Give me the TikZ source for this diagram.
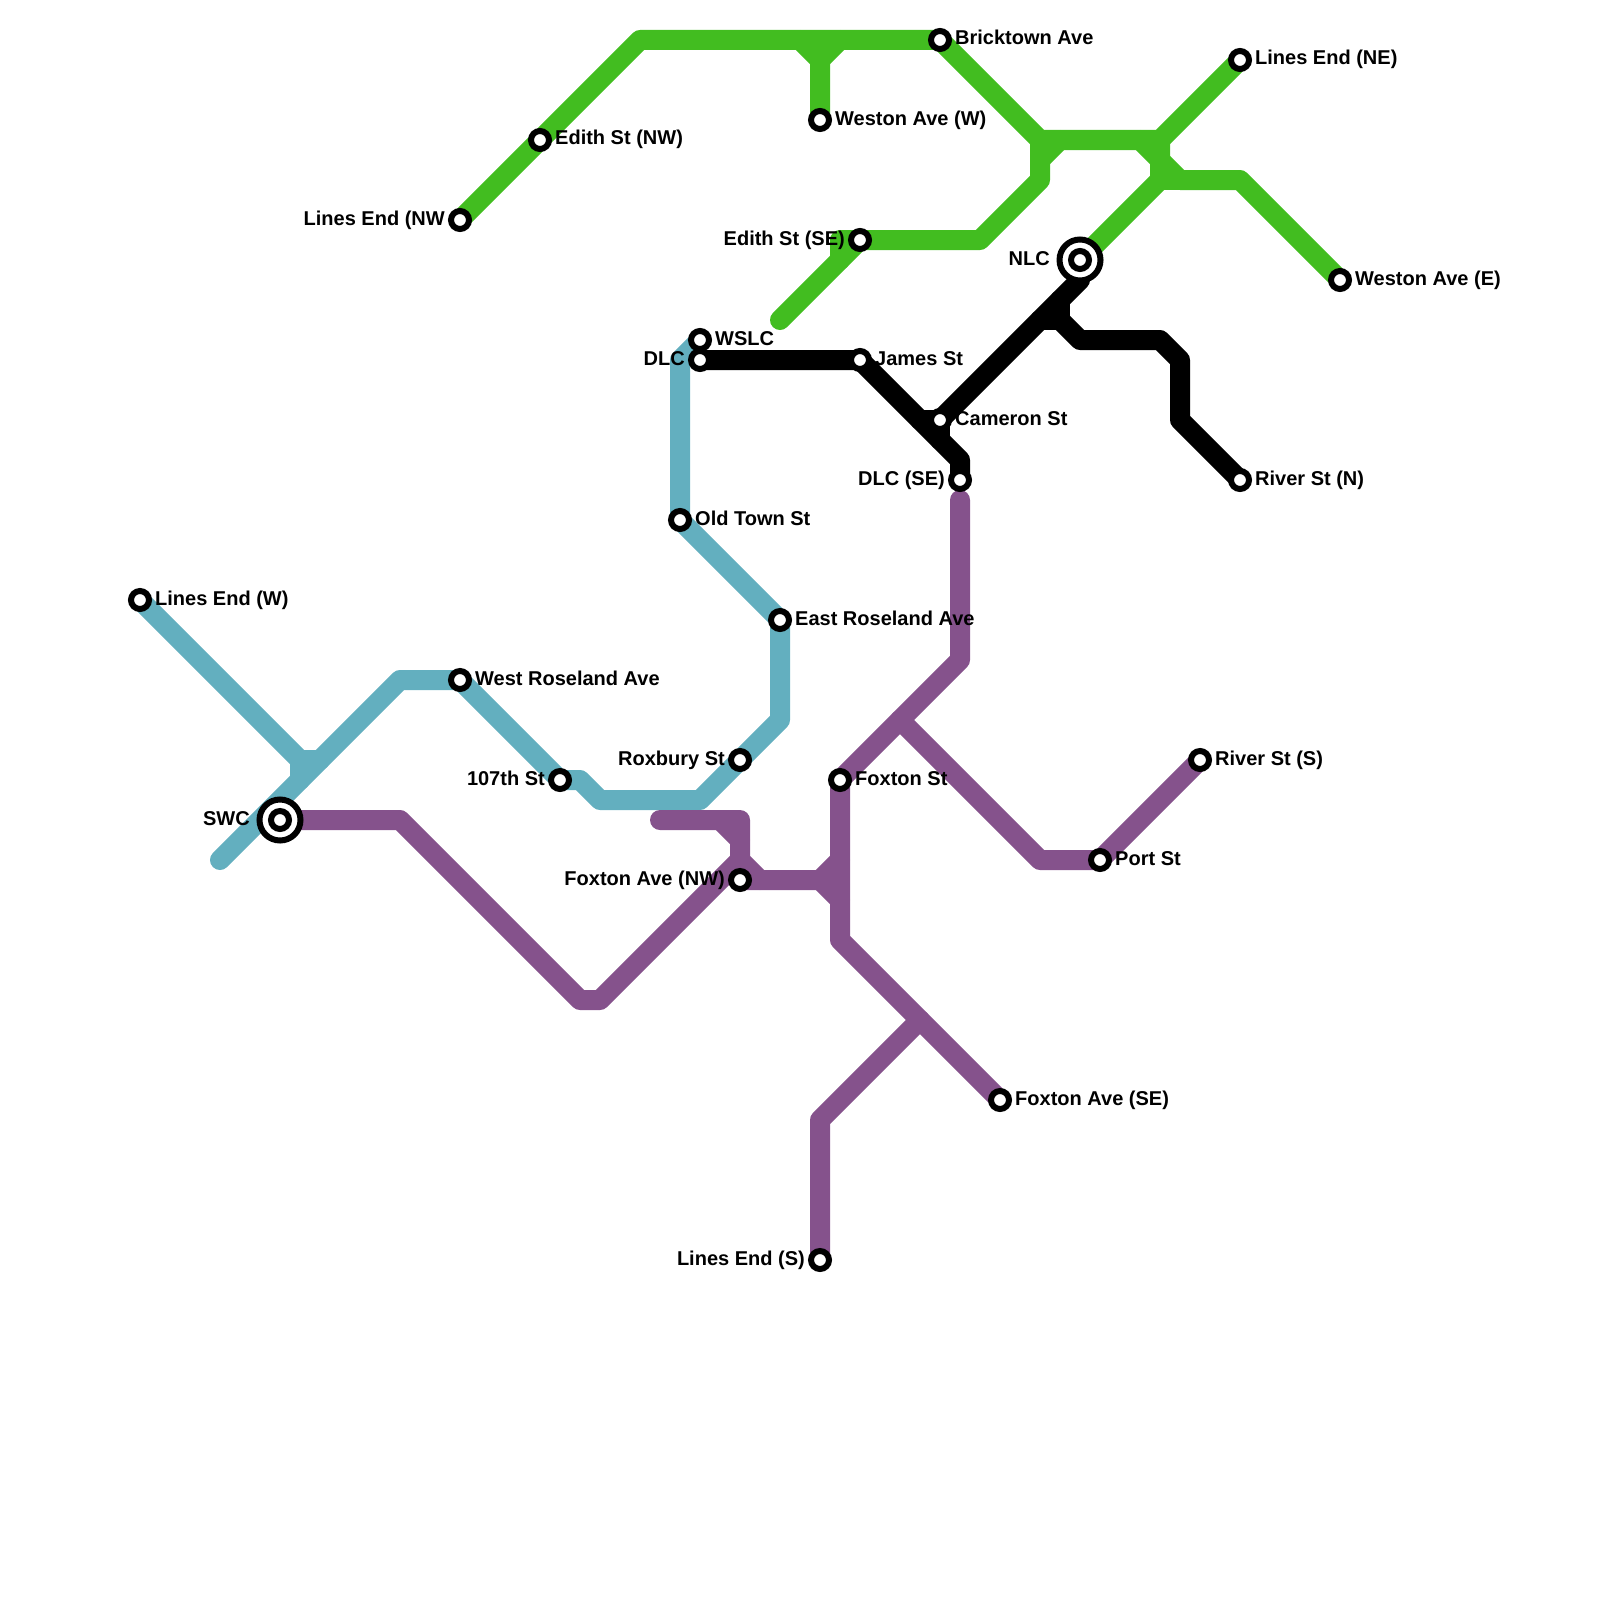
\documentclass[tikz,border=0pt]{standalone}
\usepackage{fontspec}
\setmainfont{Liberation Sans}[BoldFont={* Bold}]
\pgfdeclarelayer{lines}
\pgfdeclarelayer{labels}
\pgfsetlayers{lines,labels,main}
\definecolor{teal}{HTML}{63AFBF}
\definecolor{plum}{HTML}{85528C}
\definecolor{lime}{HTML}{42BD20}
\tikzset{
  x=1pt,y=-1pt,
  metro/.style={line width=20pt,line cap=round,line join=round},
  stn/.style={circle,draw=black,line width=6pt,fill=white,minimum size=18pt,inner sep=0pt},
  hub/.style={circle,draw=black,line width=6pt,fill=white,minimum size=41pt,inner sep=0pt},
  lblr/.style={anchor=base west,font=\fontsize{20}{22}\selectfont\bfseries,inner sep=0pt},
  lbll/.style={anchor=base east,font=\fontsize{20}{22}\selectfont\bfseries,inner sep=0pt},
}
\begin{document}
\begin{tikzpicture}
\useasboundingbox (0,0) rectangle (1600,1600);
% station positions
\foreach \n/\x/\y in {lw/140/600,swc/280/820,wra/460/680,th/560/780,ots/680/520,era/780/620,rox/740/760,wslc/700/340,dlc/700/360,
 fnw/740/880,fst/840/780,fse/1000/1100,les/820/1260,port/1100/860,rss/1200/760,dlcse/960/480,
 lenw/460/220,enw/540/140,bri/940/40,wew/820/120,ese/860/240,lene/1240/60,nlc/1080/260,wee/1340/280,
 jam/860/360,cam/940/420,rsn/1240/480}{\coordinate (\n) at (\x,\y);}
\coordinate (tealj) at (300,760);
\coordinate (tealend) at (220,860);
\coordinate (plumend) at (660,820);
\coordinate (plumtop) at (960,500);
\coordinate (plumj) at (900,720);
\coordinate (plumk) at (920,1020);
\coordinate (plumh) at (820,880);
\coordinate (grnend) at (780,320);
\coordinate (grna) at (1040,140);
\coordinate (grnb) at (1160,140);
\coordinate (grnc) at (1160,160);
\coordinate (grnd) at (820,60);
\coordinate (blkj) at (1060,320);
\begin{pgfonlayer}{lines}
% teal
\draw[metro,teal] (lw) -- (tealj) -- (300,780);
\draw[metro,teal] (tealj) -- (320,760);
\draw[metro,teal] (tealend) -- (400,680) -- (wra) -- (th) -- (580,780) -- (600,800) -- (700,800) -- (rox) -- (780,720) -- (era) -- (ots) -- (680,360) -- (wslc);
% plum
\draw[metro,plum] (swc) -- (400,820) -- (580,1000) -- (600,1000) -- (740,860);
\draw[metro,plum] (plumend) -- (740,820) -- (740,860) -- (760,880);
\draw[metro,plum] (720,820) -- (740,840);
\draw[metro,plum] (fnw) -- (plumh) -- (840,860);
\draw[metro,plum] (plumh) -- (840,900);
\draw[metro,plum] (plumtop) -- (960,660) -- (plumj) -- (fst) -- (840,940) -- (plumk) -- (fse);
\draw[metro,plum] (plumk) -- (820,1120) -- (les);
\draw[metro,plum] (plumj) -- (1040,860) -- (port) -- (rss);
% green
\draw[metro,lime] (lenw) -- (enw) -- (640,40) -- (bri) -- (grna) -- (grnb) -- (lene);
\draw[metro,lime] (800,40) -- (grnd) -- (wew);
\draw[metro,lime] (840,40) -- (grnd);
\draw[metro,lime] (1060,140) -- (1040,160);
\draw[metro,lime] (grna) -- (1040,180) -- (980,240) -- (ese) -- (840,240) -- (840,260);
\draw[metro,lime] (860,240) -- (grnend);
\draw[metro,lime] (grnb) -- (1160,180) -- (nlc);
\draw[metro,lime] (1140,140) -- (grnc) -- (1180,180) -- (1240,180) -- (wee);
\draw[metro,lime] (1160,180) -- (1180,180);
% black
\draw[metro,black] (dlc) -- (jam) -- (960,460) -- (dlcse);
\draw[metro,black] (920,420) -- (cam) -- (940,440);
\draw[metro,black] (cam) -- (1080,280);
\draw[metro,black] (1040,320) -- (blkj) -- (1060,300);
\draw[metro,black] (blkj) -- (1080,340) -- (1160,340) -- (1180,360) -- (1180,420) -- (rsn);
\end{pgfonlayer}
\begin{pgfonlayer}{labels}
\foreach \n/\t in {lw/Lines End (W),wra/West Roseland Ave,ots/Old Town St,era/East Roseland Ave,wslc/WSLC,fst/Foxton St,fse/Foxton Ave (SE),port/Port St,rss/River St (S),enw/Edith St (NW),bri/Bricktown Ave,wew/Weston Ave (W),lene/Lines End (NE),wee/Weston Ave (E),jam/James St,cam/Cameron St,rsn/River St (N)}
  {\node[lblr] (txt\n) at ([xshift=15pt,yshift=-5pt]\n) {\t};}
\foreach \n/\t in {th/107th St,rox/Roxbury St,dlc/DLC,fnw/Foxton Ave (NW),les/Lines End (S),dlcse/DLC (SE),lenw/Lines End (NW,ese/Edith St (SE)}
  {\node[lbll] (txt\n) at ([xshift=-15pt,yshift=-5pt]\n) {\t};}
\node[lbll] (txtswc) at ([xshift=-30pt,yshift=-5pt]swc) {SWC};
\node[lbll] (txtnlc) at ([xshift=-30pt,yshift=-5pt]nlc) {NLC};
\end{pgfonlayer}
% stations
\foreach \n in {lw,wra,th,ots,era,rox,wslc,dlc,fnw,fst,fse,les,port,rss,dlcse,lenw,enw,bri,wew,ese,lene,wee,jam,cam,rsn}
  {\node[stn] (stop\n) at (\n) {};}
\foreach \n in {swc,nlc}
  {\node[hub] (ring\n) at (\n) {}; \node[stn] (stop\n) at (\n) {};}
\end{tikzpicture}
\end{document}
